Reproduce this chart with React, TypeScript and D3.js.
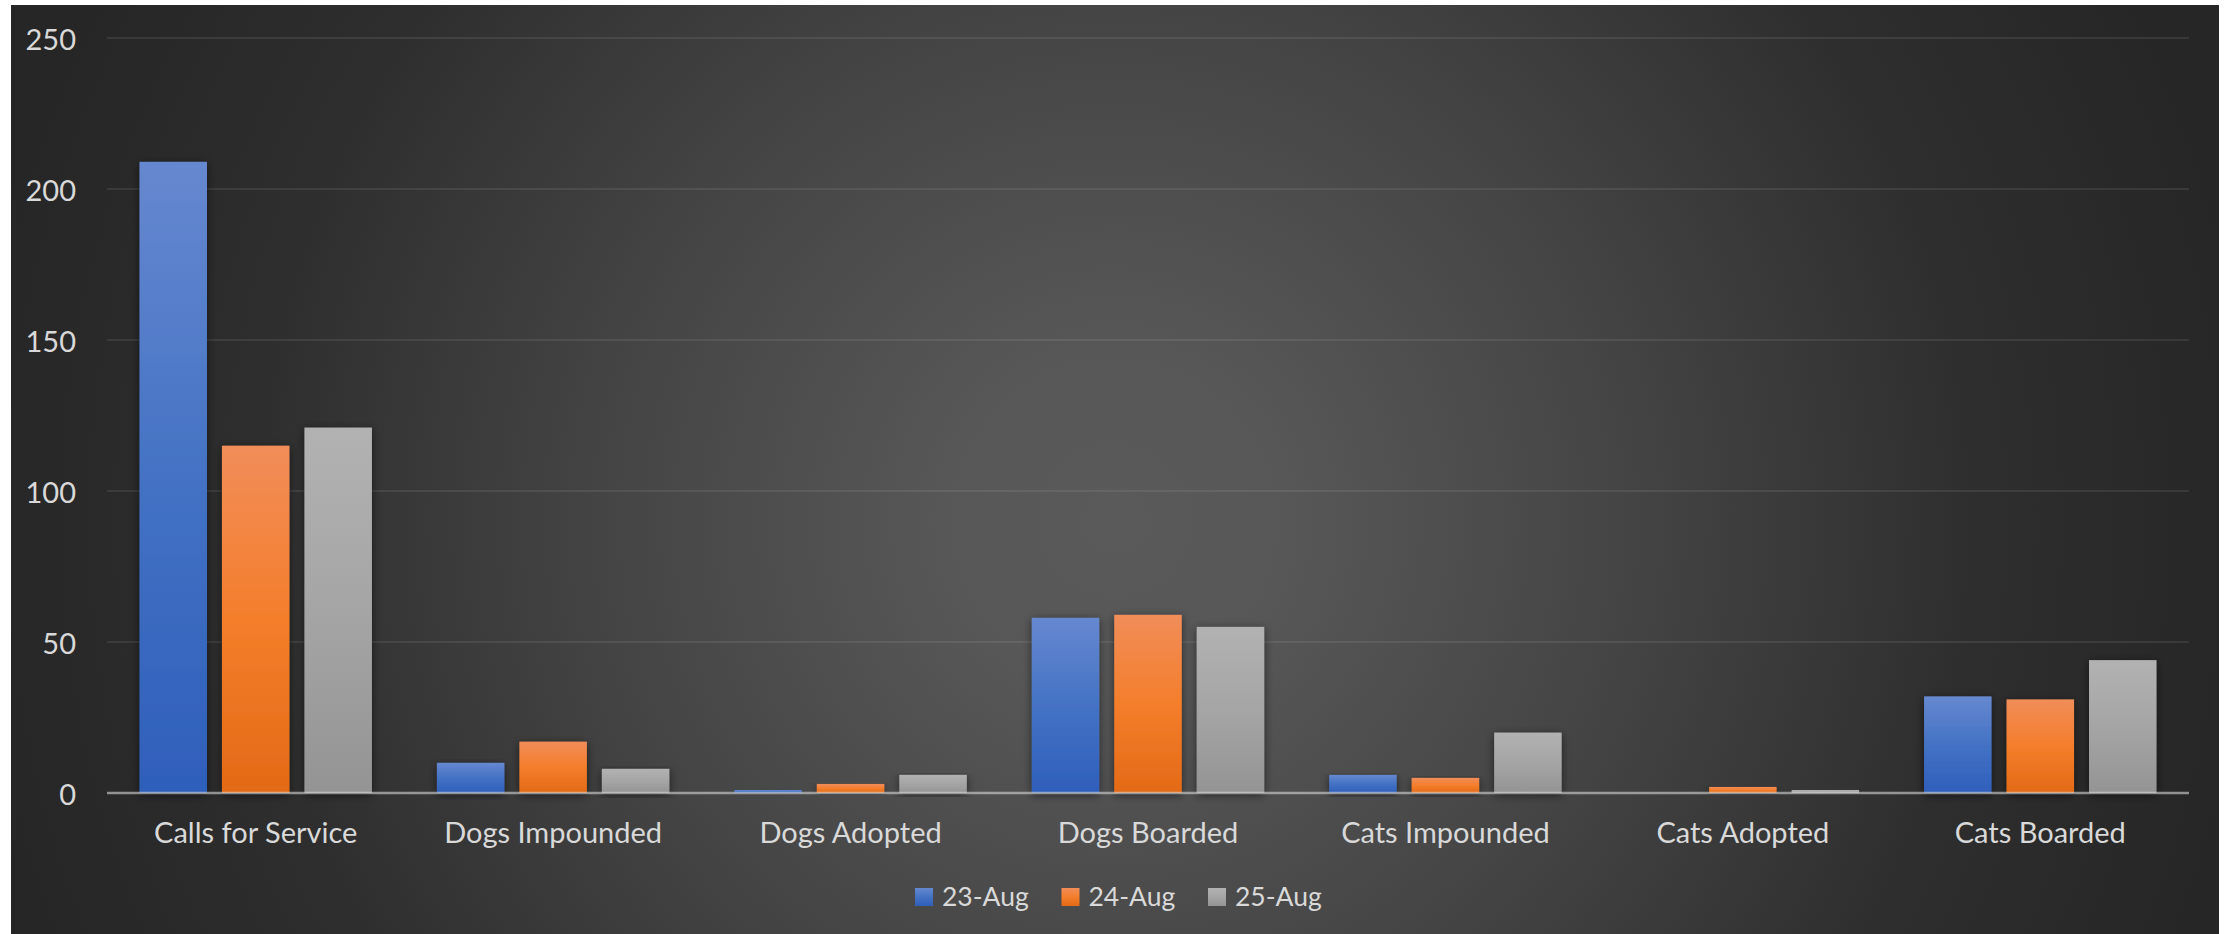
import React from "react";
import * as d3 from "d3";

const categories = [
  "Calls for Service",
  "Dogs Impounded",
  "Dogs Adopted",
  "Dogs Boarded",
  "Cats Impounded",
  "Cats Adopted",
  "Cats Boarded",
];
const seriesNames = ["23-Aug", "24-Aug", "25-Aug"];
const aug23 = [209, 10, 1, 58, 6, 0, 32];
const aug24 = [115, 17, 3, 59, 5, 2, 31];
const aug25 = [121, 8, 6, 55, 20, 1, 44];
const yTicks = [0, 50, 100, 150, 200, 250];

const seriesValues = [aug23, aug24, aug25];
const gradStops = [
  ["#6688d0", "#4472c4", "#2e5fbb"],
  ["#f18d59", "#f47e2b", "#e36a16"],
  ["#b2b2b2", "#a5a5a5", "#949494"],
];

const W = 2231;
const H = 934;
const FONT = "Lato, 'Liberation Sans', sans-serif";
const TEXT = "#d9d9d9";

export default function App() {
  const x0 = d3.scaleBand<string>().domain(categories).range([107, 2189]).paddingInner(0).paddingOuter(0);
  const x1 = d3
    .scaleBand<string>()
    .domain(seriesNames)
    .range([0, x0.bandwidth()])
    .paddingInner(0.1818)
    .paddingOuter(0.394);
  const y = d3.scaleLinear().domain([0, 250]).range([793, 38]);

  const legendStep = 146.5;
  const legendStart = 915;

  return (
    <div style={{ position: "absolute", left: 0, top: 0, width: W, height: H, background: "#fff" }}>
      <svg width={W} height={H} style={{ display: "block" }}>
        <defs>
          <radialGradient id="bg" gradientUnits="userSpaceOnUse" cx={1115} cy={520} r={1150}>
            <stop offset="0" stopColor="#5a5a5a" />
            <stop offset="0.15" stopColor="#575757" />
            <stop offset="0.45" stopColor="#444444" />
            <stop offset="0.75" stopColor="#2e2e2e" />
            <stop offset="1" stopColor="#262626" />
          </radialGradient>
          {gradStops.map((s, i) => (
            <linearGradient key={i} id={`g${i}`} x1="0" y1="0" x2="0" y2="1">
              <stop offset="0" stopColor={s[0]} />
              <stop offset="0.5" stopColor={s[1]} />
              <stop offset="1" stopColor={s[2]} />
            </linearGradient>
          ))}
          <filter id="shadow" x="-30%" y="-10%" width="160%" height="130%">
            <feDropShadow dx="0" dy="2" stdDeviation="5" floodColor="#000" floodOpacity="0.55" />
          </filter>
        </defs>

        <rect x={11} y={5} width={2208} height={H - 5} fill="url(#bg)" />

        {/* gridlines */}
        {yTicks.slice(1).map((t) => (
          <line
            key={t}
            x1={107}
            x2={2189}
            y1={y(t)}
            y2={y(t)}
            stroke="rgba(217,217,217,0.1)"
            strokeWidth={2}
          />
        ))}

        {/* y tick labels */}
        {yTicks.map((t) => (
          <text
            key={t}
            x={76}
            y={y(t)}
            textAnchor="end"
            dominantBaseline="central"
            fill={TEXT}
            fontFamily={FONT}
            fontSize={29}
          >
            {t}
          </text>
        ))}

        {/* bars */}
        {categories.map((c, ci) => (
          <g key={c} transform={`translate(${x0(c)},0)`}>
            {seriesNames.map((s, si) => {
              const v = seriesValues[si][ci];
              if (v <= 0) return null;
              return (
                <rect
                  key={s}
                  x={x1(s)}
                  y={y(v)}
                  width={x1.bandwidth()}
                  height={y(0) - y(v)}
                  fill={`url(#g${si})`}
                  filter="url(#shadow)"
                />
              );
            })}
          </g>
        ))}

        {/* x axis line */}
        <line x1={107} x2={2189} y1={y(0)} y2={y(0)} stroke="rgba(217,217,217,0.6)" strokeWidth={2.5} />

        {/* category labels */}
        {categories.map((c) => (
          <text
            key={c}
            x={(x0(c) as number) + x0.bandwidth() / 2}
            y={843}
            textAnchor="middle"
            fill={TEXT}
            fontFamily={FONT}
            fontSize={29}
          >
            {c}
          </text>
        ))}

        {/* legend */}
        {seriesNames.map((s, i) => (
          <g key={s} transform={`translate(${legendStart + i * legendStep},0)`}>
            <rect x={0} y={888} width={18} height={18} fill={`url(#g${i})`} />
            <text x={27} y={906} fill={TEXT} fontFamily={FONT} fontSize={26.5}>
              {s}
            </text>
          </g>
        ))}
      </svg>
    </div>
  );
}
